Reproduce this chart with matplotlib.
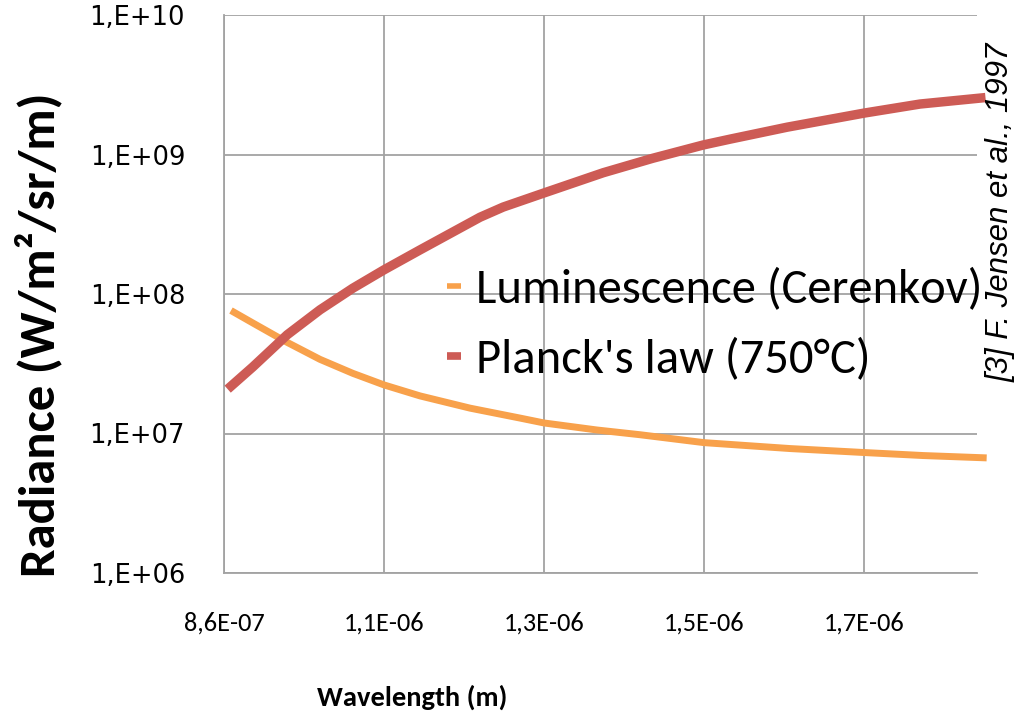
import matplotlib
matplotlib.use("Agg")
import matplotlib.pyplot as plt
from matplotlib.lines import Line2D

# wavelength in micrometres (axis shows it as metres), radiance in W/m2/sr/m
planck_wl = [0.869, 0.896, 0.939, 0.980, 1.021, 1.060, 1.105, 1.146, 1.180, 1.209,
             1.260, 1.334, 1.396, 1.459, 1.493, 1.564, 1.660, 1.730, 1.806]
planck_rad = [2.19e7, 3.0e7, 5.1e7, 7.7e7, 1.1e8, 1.49e8, 2.07e8, 2.78e8, 3.55e8, 4.2e8,
              5.3e8, 7.4e8, 9.4e8, 1.17e9, 1.29e9, 1.57e9, 1.98e9, 2.3e9, 2.54e9]

lum_wl = [0.8725, 0.896, 0.939, 0.980, 1.021, 1.060, 1.105, 1.1675, 1.230, 1.260,
          1.326, 1.380, 1.460, 1.5675, 1.661, 1.734, 1.809]
lum_rad = [7.4e7, 6.2e7, 4.5e7, 3.4e7, 2.7e7, 2.23e7, 1.86e7, 1.52e7, 1.29e7, 1.19e7,
           1.06e7, 9.8e6, 8.6e6, 7.8e6, 7.3e6, 6.95e6, 6.7e6]

x_ticks = [0.86, 1.06, 1.26, 1.46, 1.66]
x_tick_labels = ["8,6E-07", "1,1E-06", "1,3E-06", "1,5E-06", "1,7E-06"]
y_ticks = [1e6, 1e7, 1e8, 1e9, 1e10]
y_tick_labels = ["1,E+06", "1,E+07", "1,E+08", "1,E+09", "1,E+10"]

orange = "#F8A14B"
red = "#CD5B55"
grid_col = "#A3A3A3"
body = ["Carlito", "Open Sans", "DejaVu Sans"]

fig = plt.figure(figsize=(10.3, 7.21), dpi=100)
ax = fig.add_axes([224 / 1030, 1 - 573 / 721, (977 - 224) / 1030, (573 - 15) / 721])

ax.plot(lum_wl, lum_rad, color=orange, lw=5, solid_capstyle="projecting", clip_on=False, zorder=3)
ax.plot(planck_wl, planck_rad, color=red, lw=6.8, solid_capstyle="projecting", clip_on=False, zorder=4)

ax.set_yscale("log")
ax.set_ylim(1e6, 1e10)
ax.set_xlim(0.86, 0.86 + (977 - 224) / 800)
ax.minorticks_off()

ax.set_xticks(x_ticks)
ax.set_xticklabels(x_tick_labels, fontfamily=body, fontsize=19)
ax.set_yticks(y_ticks)
ax.set_yticklabels(y_tick_labels, fontfamily="DejaVu Sans", fontsize=18.5)
ax.tick_params(axis="both", length=0)
ax.tick_params(axis="x", pad=28)
ax.tick_params(axis="y", pad=28)

ax.grid(True, color=grid_col, lw=1.3)
ax.set_axisbelow(True)
for s in ["top", "right"]:
    ax.spines[s].set_visible(False)
for s in ["left", "bottom"]:
    ax.spines[s].set_color(grid_col)
    ax.spines[s].set_linewidth(1.3)

handles = [Line2D([], [], color=orange, lw=4, solid_capstyle="butt"),
           Line2D([], [], color=red, lw=5.5, solid_capstyle="butt")]
ax.legend(handles, ["Luminescence (Cerenkov)", "Planck's law (750°C)"],
          loc="center left", bbox_to_anchor=(0.296, 0.445), frameon=False,
          prop={"family": body, "size": 35}, handlelength=0.3, handletextpad=0.3,
          labelspacing=0.55, borderpad=0, borderaxespad=0)

fig.text(38 / 1030, 1 - 335 / 721, "Radiance (W/m²/sr/m)", rotation=90, ha="center", va="center",
         fontsize=36.5, fontweight="bold", family=body)
fig.text(412 / 1030, 1 - 697 / 721, "Wavelength (m)", ha="center", va="center",
         fontsize=20.5, fontweight="bold", family=body)
fig.text(1001 / 1030, 1 - 212 / 721, "[3] F. Jensen et al., 1997", rotation=90, ha="center", va="center",
         fontsize=22.5, style="italic", family="Liberation Sans")

fig.savefig("out.png", dpi=100)
